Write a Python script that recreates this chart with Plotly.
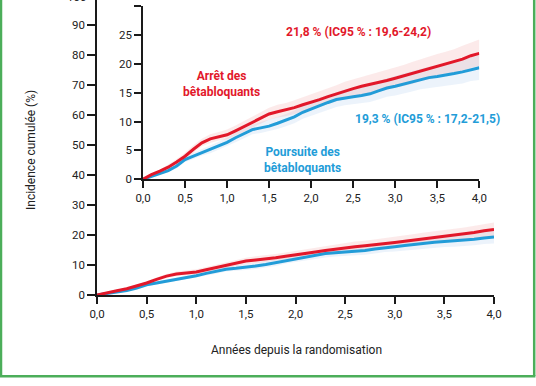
import plotly.graph_objects as go

years = [0.0, 0.1, 0.2, 0.3, 0.4, 0.5, 0.6, 0.7, 0.8, 0.9, 1.0, 1.1, 1.2, 1.3, 1.4, 1.5, 1.6, 1.7, 1.8, 1.9, 2.0,
         2.1, 2.2, 2.3, 2.4, 2.5, 2.6, 2.7, 2.8, 2.9, 3.0, 3.1, 3.2, 3.3, 3.4, 3.5, 3.6, 3.7, 3.8, 3.9, 4.0]

arret = [0.0, 0.8, 1.4, 2.1, 3.0, 4.0, 5.2, 6.3, 7.0, 7.4, 7.7, 8.4, 9.1, 9.9, 10.6, 11.3, 11.7, 12.0, 12.4, 12.9, 13.3,
         13.8, 14.3, 14.8, 15.3, 15.7, 16.1, 16.4, 16.7, 17.1, 17.5, 17.9, 18.3, 18.8, 19.2, 19.6, 19.9, 20.3, 20.8, 21.4, 21.8]
arret_low = [0.0, 0.7, 1.2, 1.8, 2.6, 3.5, 4.6, 5.7, 6.3, 6.7, 6.9, 7.6, 8.2, 9.0, 9.6, 10.3, 10.7, 10.9, 11.3, 11.7, 12.1,
             12.6, 13.0, 13.5, 13.9, 14.3, 14.6, 14.9, 15.1, 15.5, 15.8, 16.2, 16.5, 17.0, 17.3, 17.7, 17.9, 18.3, 18.7, 19.3, 19.6]
arret_up = [0.0, 0.9, 1.6, 2.5, 3.5, 4.6, 5.9, 7.0, 7.8, 8.2, 8.6, 9.3, 10.1, 10.9, 11.7, 12.4, 12.9, 13.2, 13.7, 14.2, 14.7,
            15.2, 15.8, 16.3, 16.9, 17.3, 17.8, 18.1, 18.5, 18.9, 19.4, 19.8, 20.3, 20.8, 21.3, 21.7, 22.1, 22.5, 23.1, 23.7, 24.2]

poursuite = [0.0, 0.5, 0.9, 1.5, 2.3, 3.4, 4.0, 4.6, 5.1, 5.7, 6.4, 7.2, 7.9, 8.6, 8.9, 9.2, 9.7, 10.2, 10.8, 11.6, 12.2,
             12.8, 13.3, 13.8, 14.1, 14.3, 14.5, 14.8, 15.3, 15.8, 16.1, 16.5, 16.9, 17.3, 17.6, 17.8, 18.0, 18.3, 18.6, 19.0, 19.3]
poursuite_low = [0.0, 0.4, 0.7, 1.2, 1.9, 3.0, 3.5, 4.1, 4.5, 5.1, 5.7, 6.4, 7.1, 7.8, 8.0, 8.3, 8.7, 9.2, 9.7, 10.5, 11.0,
                 11.6, 12.1, 12.5, 12.8, 13.0, 13.1, 13.4, 13.8, 14.3, 14.5, 14.8, 15.2, 15.6, 15.8, 16.0, 16.1, 16.3, 16.6, 17.0, 17.2]
poursuite_up = [0.0, 0.6, 1.1, 1.8, 2.7, 3.9, 4.6, 5.2, 5.8, 6.5, 7.2, 8.1, 8.8, 9.5, 9.9, 10.3, 10.8, 11.3, 11.9, 12.8, 13.5,
                14.1, 14.6, 15.1, 15.5, 15.8, 16.1, 16.4, 17.0, 17.5, 17.9, 18.3, 18.7, 19.2, 19.5, 19.8, 20.0, 20.4, 20.7, 21.1, 21.5]

x_ticks = [0.0, 0.5, 1.0, 1.5, 2.0, 2.5, 3.0, 3.5, 4.0]
main_y_ticks = [0, 10, 20, 30, 40, 50, 60, 70, 80, 90, 100]
inset_y_ticks = [0, 5, 10, 15, 20, 25, 30]

RED = "#e2182a"
BLUE = "#229cd8"
RED_BAND = "rgba(240,140,140,0.18)"
BLUE_BAND = "rgba(120,170,230,0.14)"
FONT = "Roboto"
TXT = "#222222"

W, H = 536, 386

fig = go.Figure()

def add_series(xa, ya):
    for low, up, band in [(poursuite_low, poursuite_up, BLUE_BAND), (arret_low, arret_up, RED_BAND)]:
        fig.add_trace(go.Scatter(x=years, y=low, xaxis=xa, yaxis=ya, mode="lines",
                                 line=dict(width=0), hoverinfo="skip", showlegend=False))
        fig.add_trace(go.Scatter(x=years, y=up, xaxis=xa, yaxis=ya, mode="lines", fill="tonexty",
                                 fillcolor=band, line=dict(width=0), hoverinfo="skip", showlegend=False))
    fig.add_trace(go.Scatter(x=years, y=poursuite, xaxis=xa, yaxis=ya, mode="lines",
                             line=dict(color=BLUE, width=3), showlegend=False))
    fig.add_trace(go.Scatter(x=years, y=arret, xaxis=xa, yaxis=ya, mode="lines",
                             line=dict(color=RED, width=3), showlegend=False))

add_series("x", "y")
add_series("x2", "y2")

def px_x(p):
    return p / W

def px_y(p):
    return 1 - p / H

axis_common = dict(showgrid=False, zeroline=False, showline=True, linecolor="#1a1a1a", linewidth=1.5,
                   ticks="outside", tickcolor="#1a1a1a", tickwidth=1.5, automargin=False,
                   tickfont=dict(family=FONT, size=11.5, color=TXT))

fig.update_layout(
    xaxis=dict(domain=[px_x(97), px_x(494)], range=[0, 4], tickvals=x_ticks, tickformat=".1f",
               ticklen=7, anchor="y", **axis_common),
    yaxis=dict(domain=[px_y(295), 1.0], range=[0, 295 / 3.0], tickvals=main_y_ticks, ticklen=8,
               anchor="x", **axis_common),
    xaxis2=dict(domain=[px_x(143), px_x(479.3)], range=[0, 4], tickvals=x_ticks, tickformat=".1f",
                ticklen=7, anchor="y2", **axis_common),
    yaxis2=dict(domain=[px_y(179.3), px_y(6)], range=[0, 30], tickvals=inset_y_ticks, ticklen=7,
                anchor="x2", **axis_common),
)

fig.update_layout(
    width=W, height=H,
    margin=dict(l=0, r=0, t=0, b=0, autoexpand=False),
    paper_bgcolor="white", plot_bgcolor="rgba(0,0,0,0)",
    separators=", ",
    showlegend=False,
    font=dict(family=FONT, size=12, color=TXT),
)

def note(text, x, y, color=TXT, size=12, angle=0):
    return dict(text=text, x=px_x(x), y=px_y(y), xref="paper", yref="paper", xanchor="center",
                yanchor="middle", align="center", showarrow=False, textangle=angle,
                font=dict(family=FONT, size=size, color=color))

ann = [
    dict(text="100", x=px_x(88), y=px_y(-2.5), xref="paper", yref="paper", xanchor="right",
         yanchor="middle", showarrow=False, font=dict(family=FONT, size=11.5, color=TXT)),
    note("Incidence cumulée (%)", 31, 150, angle=-90),
    note("Années depuis la randomisation", 296, 350),
    note("<b>21,8 % (IC95 % : 19,6-24,2)</b>", 358, 32, RED),
    note("<b>Arrêt des<br>bêtabloquants</b>", 221, 84, RED),
    note("<b>19,3 % (IC95 % : 17,2-21,5)</b>", 427, 119, BLUE),
    note("<b>Poursuite des<br>bêtabloquants</b>", 302, 160, BLUE),
]
fig.update_layout(annotations=ann)

GREEN = "#4cae5a"
fig.update_layout(shapes=[
    dict(type="line", xref="paper", yref="paper", x0=px_x(1), x1=px_x(1), y0=px_y(376), y1=1.0,
         line=dict(color=GREEN, width=2.5)),
    dict(type="line", xref="paper", yref="paper", x0=px_x(534.2), x1=px_x(534.2), y0=px_y(376), y1=1.0,
         line=dict(color=GREEN, width=2.5)),
    dict(type="line", xref="paper", yref="paper", x0=0, x1=px_x(535.4), y0=px_y(376.2), y1=px_y(376.2),
         line=dict(color=GREEN, width=2.5)),
])

fig.write_html("out.html", config={"displayModeBar": False},
               post_script="document.body.style.margin='0';document.body.style.overflow='hidden';")
